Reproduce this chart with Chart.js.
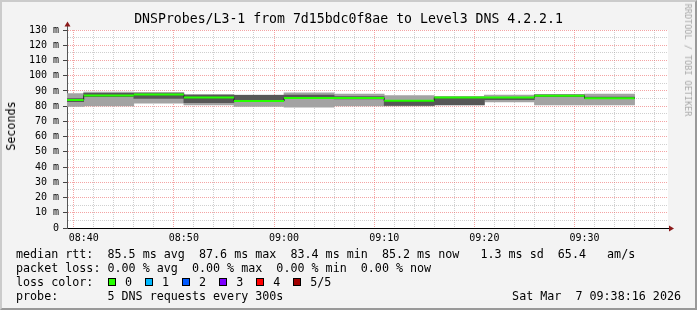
<!DOCTYPE html>
<html>
<head>
<meta charset="utf-8">
<script src="https://cdn.jsdelivr.net/npm/chart.js@4"></script>
<style>
html, body { margin: 0; padding: 0; background: #f3f3f3; }
#wrap { position: relative; width: 697px; height: 310px; background: #f3f3f3; overflow: hidden;
  font-family: "DejaVu Sans Mono", monospace; color: #000; }
#c { position: absolute; left: 0; top: 0; }
#frame { position: absolute; left: 0; top: 0; width: 697px; height: 310px; box-sizing: border-box;
  border-top: 2px solid #cbcbcb; border-left: 2px solid #cbcbcb;
  border-right: 2px solid #999; border-bottom: 2px solid #999; pointer-events: none; }
#title { position: absolute; left: 0; top: 11px; width: 697px; text-align: center;
  font-size: 13.2px; line-height: 16px; white-space: pre; }
#ylab { position: absolute; left: 11px; top: 126px; transform: translate(-50%, -50%) rotate(-90deg);
  font-size: 11.7px; white-space: nowrap; }
#mark { position: absolute; left: 688px; top: 60px; transform: translate(-50%, -50%) rotate(90deg);
  font-size: 8.5px; color: #a8a8a8; white-space: nowrap; }
.row { position: absolute; font-size: 11.7px; line-height: 14px; white-space: pre; }
.box { position: absolute; top: 278px; width: 6px; height: 6px; border: 1px solid #000; }
</style>
</head>
<body>
<div id="wrap">
  <canvas id="c" width="697" height="310"></canvas>
  <div id="title">DNSProbes/L3-1 from 7d15bdc0f8ae to Level3 DNS 4.2.2.1</div>
  <div id="ylab">Seconds</div>
  <div id="mark">RRDTOOL / TOBI OETIKER</div>
  <div class="row" style="left:16px;top:247px">median rtt:  85.5 ms avg  87.6 ms max  83.4 ms min  85.2 ms now   1.3 ms sd  65.4   am/s</div>
  <div class="row" style="left:16px;top:261px">packet loss: 0.00 % avg  0.00 % max  0.00 % min  0.00 % now</div>
  <div class="row" style="left:16px;top:275px">loss color:</div>
  <div id="loss"></div>
  <div class="row" style="left:16px;top:289px">probe:       5 DNS requests every 300s</div>
  <div class="row" style="right:16px;top:289px">Sat Mar  7 09:38:16 2026</div>
  <div id="frame"></div>
</div>
<script>
"use strict";

/* ---------- data ---------- */
const viewStart = "08:38:20";
const viewEnd = "09:38:20";
const STEP = 5; // minutes between probe rounds (300 s)

// start of each 5-minute probe round
const segStarts = ["08:35", "08:40", "08:45", "08:50", "08:55", "09:00",
                   "09:05", "09:10", "09:15", "09:20", "09:25", "09:30"];
// median rtt, ms
const medianRtt = [84.0, 87.0, 87.6, 85.6, 83.4, 85.3, 85.3, 83.5, 85.6, 85.6, 86.9, 85.2];
// smoke: fastest / 2nd / 4th / slowest of the 5 pings, ms
const smokeMin = [79.8, 80.1, 82.0, 80.8, 79.8, 79.4, 80.1, 80.1, 80.7, 82.7, 80.8, 80.8];
const smokeLo  = [83.0, 86.3, 85.0, 82.3, 83.2, 85.0, 84.8, 80.4, 81.0, 84.3, 86.2, 84.9];
const smokeHi  = [85.0, 88.4, 88.2, 87.3, 87.1, 87.2, 86.3, 83.6, 86.0, 85.8, 87.4, 85.9];
const smokeMax = [88.2, 89.3, 89.0, 87.6, 87.3, 88.8, 88.0, 86.9, 86.3, 87.3, 87.6, 88.0];

const xTickLabels = ["08:40", "08:50", "09:00", "09:10", "09:20", "09:30"];
const yMax = 130;

const lossLabels = ["0", "1", "2", "3", "4", "5/5"];
const lossColors = ["#26ff00", "#00b8ff", "#0059ff", "#7e00ff", "#ff0000", "#a10000"];

/* ---------- helpers ---------- */
function toMin(s) {
  const [h, m, sec = 0] = s.split(":").map(Number);
  return h * 60 + m + sec / 60;
}
function isMajor(v, every) { return Math.abs(v % every) < 1e-6; }
function tickIsMajor(c, every) { return !!(c && c.tick && isMajor(c.tick.value, every)); }

/* ---------- legend boxes ---------- */
document.getElementById("loss").innerHTML = lossLabels.map((lab, i) => {
  const x = 108 + i * 37.06;
  return `<div class="box" style="left:${x}px;background:${lossColors[i]}"></div>` +
    `<div class="row" style="left:${x + 17}px;top:275px">${lab}</div>`;
}).join("");

/* ---------- datasets ---------- */
const starts = segStarts.map(toMin);
const outerBars = starts.map((t, i) => ({ x: t + STEP / 2, y: [smokeMin[i], smokeMax[i]] }));
const innerBars = starts.map((t, i) => ({ x: t + STEP / 2, y: [smokeLo[i], smokeHi[i]] }));
const stepLine = starts.map((t, i) => ({ x: t, y: medianRtt[i] }));
stepLine.push({ x: starts[starts.length - 1] + STEP, y: medianRtt[medianRtt.length - 1] });
const greenLine = [];
starts.forEach((t, i) => {
  greenLine.push({ x: t, y: medianRtt[i] }, { x: t + STEP, y: medianRtt[i] }, { x: t + STEP, y: null });
});

/* ---------- plugins ---------- */
const canvasBg = {
  id: "canvasBg",
  beforeDraw(chart) {
    const { ctx, chartArea: a } = chart;
    ctx.save();
    ctx.fillStyle = "#ffffff";
    ctx.fillRect(a.left, a.top, a.right - a.left, a.bottom - a.top);
    ctx.restore();
  },
};

const arrows = {
  id: "arrows",
  afterDraw(chart) {
    const { ctx, chartArea: a } = chart;
    ctx.save();
    ctx.strokeStyle = "#555";
    ctx.lineWidth = 1;
    ctx.beginPath();
    ctx.moveTo(a.left + 0.5, a.top);
    ctx.lineTo(a.left + 0.5, a.top - 4);
    ctx.stroke();
    ctx.strokeStyle = "#000";
    ctx.beginPath();
    ctx.moveTo(a.right, a.bottom + 0.5);
    ctx.lineTo(a.right + 2, a.bottom + 0.5);
    ctx.stroke();
    ctx.fillStyle = "#8b1a1a";
    ctx.beginPath();
    ctx.moveTo(a.left + 0.5, a.top - 8.5);
    ctx.lineTo(a.left - 2.5, a.top - 3.5);
    ctx.lineTo(a.left + 3.5, a.top - 3.5);
    ctx.closePath();
    ctx.fill();
    ctx.beginPath();
    ctx.moveTo(a.right + 6, a.bottom + 0.5);
    ctx.lineTo(a.right + 1, a.bottom - 2.5);
    ctx.lineTo(a.right + 1, a.bottom + 3.5);
    ctx.closePath();
    ctx.fill();
    ctx.restore();
  },
};

/* ---------- chart ---------- */
const axisFont = { family: "DejaVu Sans Mono", size: 10 };
const gridColor = (every) => (c) => tickIsMajor(c, every)
  ? "rgba(235,90,90,0.55)" : "rgba(160,160,160,0.5)";

new Chart(document.getElementById("c"), {
  type: "bar",
  data: {
    datasets: [
      { type: "line", data: greenLine, borderColor: "#26ff00", borderWidth: 2,
        pointRadius: 0, spanGaps: false, order: 0 },
      { type: "line", data: stepLine, stepped: true, borderColor: "#202020", borderWidth: 1,
        pointRadius: 0, order: 1 },
      { type: "bar", data: innerBars, backgroundColor: "#575757", order: 2 },
      { type: "bar", data: outerBars, backgroundColor: "#a3a3a3", order: 3 },
    ],
  },
  options: {
    responsive: false,
    animation: false,
    layout: { padding: { left: 0, right: 29, top: 30, bottom: 0 } },
    datasets: {
      bar: { barThickness: "flex", categoryPercentage: 1, barPercentage: 1, borderWidth: 0 },
    },
    plugins: { legend: { display: false }, tooltip: { enabled: false } },
    scales: {
      x: {
        type: "linear",
        stacked: true,
        min: toMin(viewStart),
        max: toMin(viewEnd),
        offset: false,
        afterBuildTicks(s) {
          const ticks = [];
          for (let v = Math.ceil(s.min / 2) * 2; v < s.max; v += 2) ticks.push({ value: v });
          s.ticks = ticks;
        },
        afterFit(s) { s.height = 82; },
        grid: { color: gridColor(10), lineWidth: 1, drawTicks: false },
        border: { color: "#000", width: 1, dash: [1, 1] },
        ticks: {
          font: axisFont, color: "#000", padding: 4, autoSkip: false, maxRotation: 0,
          callback: (v) => xTickLabels.find((l) => Math.abs(toMin(l) - v) < 1e-6) || "",
        },
      },
      y: {
        type: "linear",
        stacked: false,
        min: 0,
        max: yMax,
        afterBuildTicks(s) {
          const ticks = [];
          for (let v = 0; v <= yMax; v += 5) ticks.push({ value: v });
          s.ticks = ticks;
        },
        afterFit(s) { s.width = 67; },
        grid: {
          color: gridColor(10), lineWidth: 1, tickLength: 4,
          tickColor: (c) => tickIsMajor(c, 10) ? "#444" : "rgba(0,0,0,0)",
        },
        border: { color: "#555", width: 1, dash: [1, 1] },
        ticks: {
          font: axisFont, color: "#000", padding: 4, autoSkip: false,
          callback: (v) => isMajor(v, 10) ? (v === 0 ? "0" : v + " m") : "",
        },
      },
    },
  },
  plugins: [canvasBg, arrows],
});
</script>
</body>
</html>
